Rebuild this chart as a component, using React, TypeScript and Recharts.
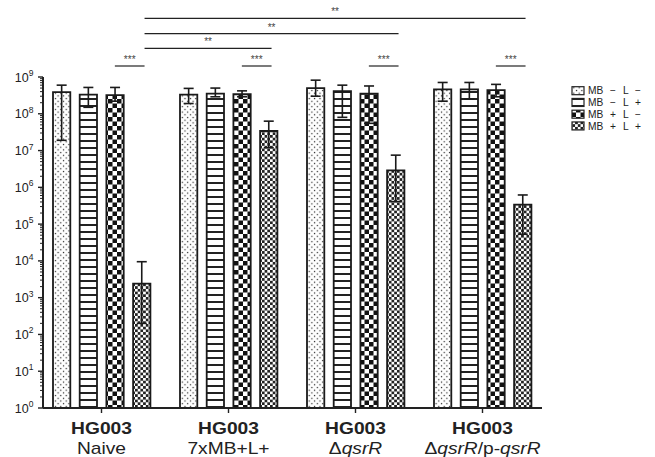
import React from 'react';
import { BarChart, Bar, XAxis, YAxis, ErrorBar } from 'recharts';

// ---- data ----
const groups = ['Naive', '7xMB+L+', 'ΔqsrR', 'ΔqsrR/p-qsrR'];
const seriesNames = ['MB − L −', 'MB − L +', 'MB + L −', 'MB + L +'];

const mbLminus_Lminus = [3.9e8, 3.3e8, 5.0e8, 4.6e8];
const mbLminus_Lminus_hi = [6.0e8, 4.9e8, 8.2e8, 7.1e8];
const mbLminus_Lminus_lo = [1.9e7, 1.9e8, 3.0e8, 2.2e8];

const mbLminus_Lplus = [3.3e8, 3.55e8, 4.1e8, 4.6e8];
const mbLminus_Lplus_hi = [5.2e8, 5.0e8, 6.0e8, 7.1e8];
const mbLminus_Lplus_lo = [1.5e8, 2.9e8, 8.0e7, 2.5e8];

const mbLplus_Lminus = [3.2e8, 3.4e8, 3.5e8, 4.4e8];
const mbLplus_Lminus_hi = [5.2e8, 4.2e8, 5.7e8, 6.3e8];
const mbLplus_Lminus_lo = [2.2e8, 2.9e8, 5.5e7, 2.9e8];

const mbLplus_Lplus = [2.4e3, 3.4e7, 2.9e6, 3.4e5];
const mbLplus_Lplus_hi = [9.5e3, 6.3e7, 7.5e6, 6.2e5];
const mbLplus_Lplus_lo = [2.0e2, 1.2e7, 4.1e5, 5.3e4];

const yMajorExponents = [0, 1, 2, 3, 4, 5, 6, 7, 8, 9];

// significance brackets: [group, bar] -> [group, bar], label, level
const brackets = [
  { a: [0, 2], b: [0, 3], label: '***', level: 0 },
  { a: [1, 2], b: [1, 3], label: '***', level: 0 },
  { a: [2, 2], b: [2, 3], label: '***', level: 0 },
  { a: [3, 2], b: [3, 3], label: '***', level: 0 },
  { a: [0, 3], b: [1, 3], label: '**', level: 1 },
  { a: [0, 3], b: [2, 3], label: '**', level: 2 },
  { a: [0, 3], b: [3, 3], label: '**', level: 3 },
];

const values = [mbLminus_Lminus, mbLminus_Lplus, mbLplus_Lminus, mbLplus_Lplus];
const his = [mbLminus_Lminus_hi, mbLminus_Lplus_hi, mbLplus_Lminus_hi, mbLplus_Lplus_hi];
const los = [mbLminus_Lminus_lo, mbLminus_Lplus_lo, mbLplus_Lminus_lo, mbLplus_Lplus_lo];

const data = groups.map((g, i) => {
  const row: any = { group: g };
  values.forEach((arr, s) => {
    row['s' + s] = arr[i];
    row['e' + s] = [arr[i] - los[s][i], his[s][i] - arr[i]];
  });
  return row;
});

const yTicks: number[] = [];
yMajorExponents.forEach((e) => {
  yTicks.push(Math.pow(10, e));
  if (e < 9) for (let m = 2; m <= 9; m++) yTicks.push(m * Math.pow(10, e));
});

// ---- layout ----
const W = 655;
const H = 457;
const PLOT_LEFT = 43;
const PLOT_TOP = 77;
const PLOT_RIGHT = 542;
const PLOT_BOTTOM = 408;
const PAD_L = -5;
const PAD_R = -4;
const BAR = 17.3;
const GAP = 9.4;
const FONT = '"Liberation Sans", Arial, Helvetica, sans-serif';
const patterns = ['url(#pDots)', 'url(#pStripes)', 'url(#pChecker)', 'url(#pFine)'];

const bandStart = PLOT_LEFT + PAD_L;
const band = (PLOT_RIGHT - PAD_R - bandStart) / groups.length;
const barCenter = (g: number, b: number) =>
  bandStart + band * g + band / 2 + (b - 1.5) * (BAR + GAP);
const levelY = [66, 48.3, 33.7, 18.3];

const YTick = (props: any) => {
  const { x, y, payload } = props;
  const v = payload.value;
  const lg = Math.log10(v);
  const e = Math.round(lg);
  const major = Math.abs(lg - e) < 1e-6;
  return (
    <g>
      <line x1={x} x2={x - (major ? 5 : 3)} y1={y} y2={y} stroke="#222" strokeWidth={major ? 1.4 : 1} />
      {major && (
        <text x={x - 9.5} y={y + 4.5} textAnchor="end" fontSize={12.5} fill="#222" fontFamily={FONT}>
          10<tspan fontSize={8.5} dy={-5.5}>{e}</tspan>
        </text>
      )}
    </g>
  );
};

const XTick = (props: any) => {
  const { x, y, payload } = props;
  const v: string = payload.value;
  let second: React.ReactNode = v;
  if (v === 'ΔqsrR') {
    second = (
      <>
        Δ<tspan fontStyle="italic">qsrR</tspan>
      </>
    );
  } else if (v === 'ΔqsrR/p-qsrR') {
    second = (
      <>
        Δ<tspan fontStyle="italic">qsrR</tspan>/p-<tspan fontStyle="italic">qsrR</tspan>
      </>
    );
  }
  return (
    <g>
      <g transform={`translate(${x},${y + 21}) scale(1.2,1)`}>
        <text x={0} y={0} textAnchor="middle" fontSize={16} fontWeight="bold" fill="#222" fontFamily={FONT}>
          HG003
        </text>
      </g>
      <g transform={`translate(${x},${y + 41}) scale(1.2,1)`}>
        <text x={0} y={0} textAnchor="middle" fontSize={16} fill="#222" fontFamily={FONT}>
          {second}
        </text>
      </g>
    </g>
  );
};

const Defs = () => (
  <svg width={0} height={0} style={{ position: 'absolute' }}>
    <defs>
      <pattern id="pDots" patternUnits="userSpaceOnUse" width={5.4} height={5.4}>
        <rect width={5.4} height={5.4} fill="#fff" />
        <rect x={0.8} y={0.8} width={1.2} height={1.2} fill="#222" />
        <rect x={3.5} y={3.5} width={1.2} height={1.2} fill="#222" />
      </pattern>
      <pattern id="pStripes" patternUnits="userSpaceOnUse" width={7} height={7}>
        <rect width={7} height={7} fill="#fff" />
        <rect x={0} y={0} width={7} height={2} fill="#222" />
      </pattern>
      <pattern id="pChecker" patternUnits="userSpaceOnUse" width={9} height={9}>
        <rect width={9} height={9} fill="#fff" />
        <rect x={0} y={0} width={4.5} height={4.5} fill="#111" />
        <rect x={4.5} y={4.5} width={4.5} height={4.5} fill="#111" />
      </pattern>
      <pattern id="pFine" patternUnits="userSpaceOnUse" width={5.4} height={5.4}>
        <rect width={5.4} height={5.4} fill="#fff" />
        <rect x={0} y={0} width={2.7} height={2.7} fill="#222" />
        <rect x={2.7} y={2.7} width={2.7} height={2.7} fill="#222" />
      </pattern>
    </defs>
  </svg>
);

const Overlay = () => (
  <svg width={W} height={H} style={{ position: 'absolute', left: 0, top: 0, pointerEvents: 'none' }}>
    {brackets.map((br, i) => {
      const x1 = barCenter(br.a[0], br.a[1]) + (br.a[1] === 3 ? 3 : 0);
      const x2 = barCenter(br.b[0], br.b[1]) + (br.b[1] === 3 ? 3 : 0);
      const y = levelY[br.level];
      return (
        <g key={i}>
          <line x1={x1} x2={x2} y1={y} y2={y} stroke="#222" strokeWidth={1.2} />
          <text x={(x1 + x2) / 2} y={y - 3} textAnchor="middle" fontSize={10} fill="#444" fontFamily={FONT}>
            {br.label}
          </text>
        </g>
      );
    })}
    {seriesNames.map((name, i) => {
      const cy = 90.7 + i * 11.75;
      return (
        <g key={name}>
          <rect x={572} y={cy - 4} width={12} height={8} fill={patterns[i]} stroke="#222" strokeWidth={1.2} />
          <text x={588} y={cy + 3.7} fontSize={10.2} fill="#222" fontFamily={FONT} style={{ wordSpacing: '4px' }}>
            {name}
          </text>
        </g>
      );
    })}
  </svg>
);

export default function App() {
  return (
    <div style={{ position: 'absolute', left: 0, top: 0, width: W, height: H, background: '#fff' }}>
      <Defs />
      <BarChart
        width={W}
        height={H}
        data={data}
        margin={{ top: PLOT_TOP, right: W - PLOT_RIGHT, bottom: 0, left: 0 }}
        barSize={BAR}
        barGap={GAP}
      >
        <XAxis
          dataKey="group"
          height={H - PLOT_BOTTOM}
          padding={{ left: PAD_L, right: PAD_R }}
          axisLine={{ stroke: '#222', strokeWidth: 2 }}
          tickLine={{ stroke: '#222', strokeWidth: 1.4 }}
          tickSize={5}
          tickMargin={0}
          tick={<XTick />}
          interval={0}
        />
        <YAxis
          scale="log"
          domain={[1, 1e9]}
          allowDataOverflow
          ticks={yTicks}
          interval={0}
          width={PLOT_LEFT}
          axisLine={{ stroke: '#222', strokeWidth: 2 }}
          tickLine={false}
          tickSize={0}
          tickMargin={0}
          tick={<YTick />}
        />
        {values.map((_, s) => (
          <Bar
            key={s}
            dataKey={'s' + s}
            name={seriesNames[s]}
            fill={patterns[s]}
            stroke="#1a1a1a"
            strokeWidth={1.8}
            isAnimationActive={false}
          >
            <ErrorBar dataKey={'e' + s} width={5} stroke="#1a1a1a" strokeWidth={1.6} />
          </Bar>
        ))}
      </BarChart>
      <Overlay />
    </div>
  );
}
